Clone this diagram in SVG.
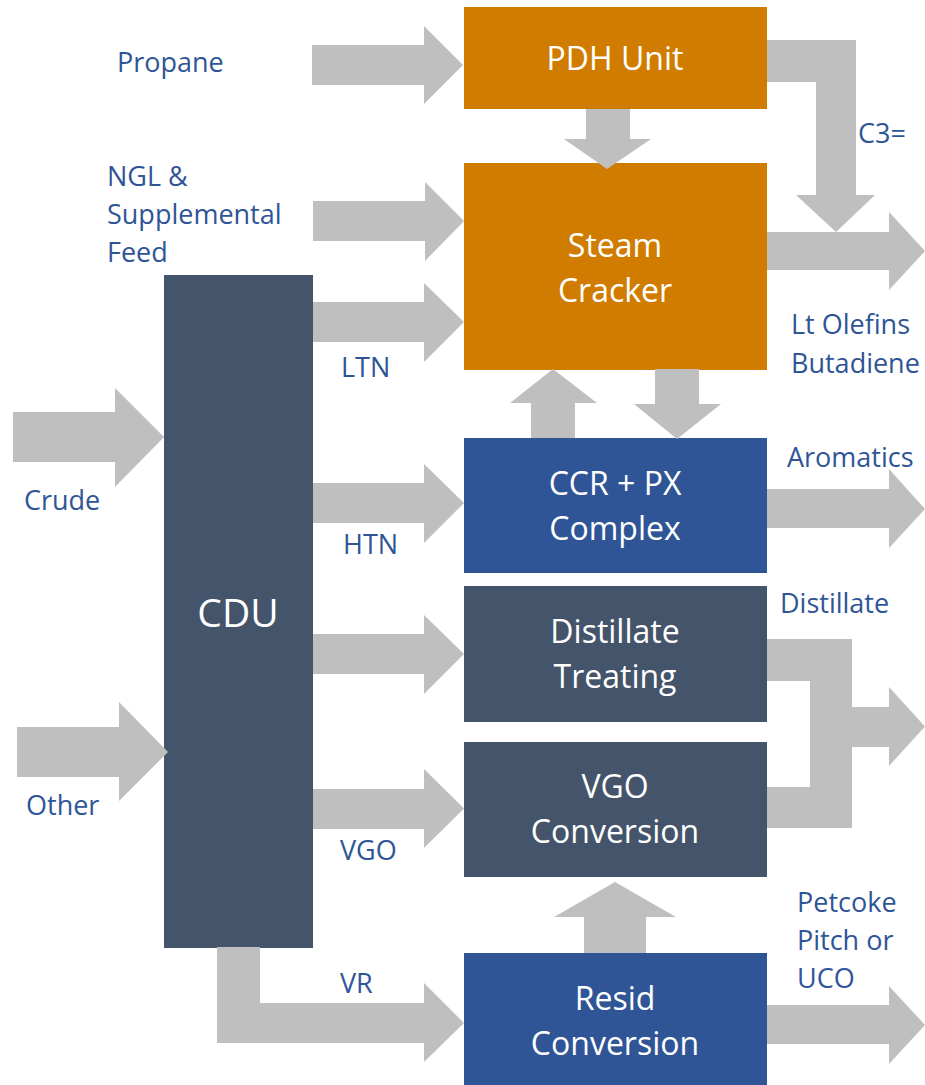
<svg xmlns="http://www.w3.org/2000/svg" width="925" height="1085" viewBox="0 0 925 1085">
<style>
.orange{fill:#D07C00}
.slate{fill:#44546A}
.blue{fill:#2F5597}
.box-text{font-family:"Open Sans","Liberation Sans",sans-serif;font-size:32px;fill:#FFFFFF;text-anchor:middle}
.cdu-text{font-family:"Open Sans","Liberation Sans",sans-serif;font-size:39px;fill:#FFFFFF;text-anchor:middle}
.label{font-family:"Open Sans","Liberation Sans",sans-serif;font-size:27px;fill:#2F5597}
.flow{fill:#BFBFBF}
</style>
<rect width="925" height="1085" fill="#FFFFFF"/>
<g id="pdh">
<rect class="orange" x="464" y="7" width="303" height="102"/>
<text class="box-text" x="615" y="70">PDH Unit</text>
</g>
<g id="steam-cracker">
<rect class="orange" x="464" y="163" width="303" height="207"/>
<text class="box-text" x="615" y="257">Steam</text>
<text class="box-text" x="615" y="302">Cracker</text>
</g>
<g id="ccr-px">
<rect class="blue" x="464" y="438" width="303" height="135"/>
<text class="box-text" x="615" y="495">CCR + PX</text>
<text class="box-text" x="615" y="540">Complex</text>
</g>
<g id="distillate-treating">
<rect class="slate" x="464" y="586" width="303" height="136"/>
<text class="box-text" x="615" y="643">Distillate</text>
<text class="box-text" x="615" y="688">Treating</text>
</g>
<g id="vgo-conversion">
<rect class="slate" x="464" y="742" width="303" height="135"/>
<text class="box-text" x="615" y="798">VGO</text>
<text class="box-text" x="615" y="843">Conversion</text>
</g>
<g id="resid-conversion">
<rect class="blue" x="464" y="953" width="303" height="132"/>
<text class="box-text" x="615" y="1010">Resid</text>
<text class="box-text" x="615" y="1055">Conversion</text>
</g>
<g id="cdu">
<rect class="slate" x="164" y="275" width="149" height="673"/>
<text class="cdu-text" x="238" y="627">CDU</text>
</g>
<g id="connectors">
<path class="flow" d="M312,45 H424 V26 L463,65 L424,104 V85 H312 Z"/>
<path class="flow" d="M313,201 H425 V182 L464,221 L425,261 V241 H313 Z"/>
<path class="flow" d="M313,302 H424 V283 L464,322 L424,362 V342 H313 Z"/>
<path class="flow" d="M13,412 H115 V388 L164,437 L115,487 V462 H13 Z"/>
<path class="flow" d="M313,483 H424 V464 L464,503 L424,543 V523 H313 Z"/>
<path class="flow" d="M313,634 H424 V615 L464,654 L424,694 V674 H313 Z"/>
<path class="flow" d="M17,727 H119 V702 L168,752 L119,801 V777 H17 Z"/>
<path class="flow" d="M313,789 H424 V769 L464,808.5 L424,848 V829 H313 Z"/>
<path class="flow" d="M217,947 H260 V1003 H424 V983 L464,1023 L424,1062 V1043 H217 Z"/>
<path class="flow" d="M586,109 H630 V139 H651 L607,169 L564,139 H586 Z"/>
<path class="flow" d="M767,40 H856 V195 H875 L836,232 L796,195 H816 V82 H767 Z"/>
<path class="flow" d="M767,232 H889 V212 L925,251 L889,290 V270 H767 Z"/>
<path class="flow" d="M531,438 V403 H510 L553,369 L597,403 H575 V438 Z"/>
<path class="flow" d="M655,369 H699 V404 H721 L677,439 L634,404 H655 Z"/>
<path class="flow" d="M767,489 H889 V469 L925,509 L889,548 V528 H767 Z"/>
<path class="flow" d="M767,639 H852 V707 H889 V687 L925,726.5 L889,766 V747 H852 V828 H767 V787 H810 V681 H767 Z"/>
<path class="flow" d="M584,953 V917 H554 L615,882 L676,917 H646 V953 Z"/>
<path class="flow" d="M767,1005 H889 V986 L925,1025 L889,1064 V1044 H767 Z"/>
</g>
<g id="labels">
<text class="label" x="117" y="72">Propane</text>
<text class="label" x="107" y="186">NGL &amp;</text>
<text class="label" x="107" y="224">Supplemental</text>
<text class="label" x="107" y="262">Feed</text>
<text class="label" x="341" y="377">LTN</text>
<text class="label" x="24" y="510">Crude</text>
<text class="label" x="343" y="554">HTN</text>
<text class="label" x="26" y="815">Other</text>
<text class="label" x="340" y="860">VGO</text>
<text class="label" x="340" y="993">VR</text>
<text class="label" x="858" y="143">C3=</text>
<text class="label" x="791" y="334">Lt Olefins</text>
<text class="label" x="791" y="373">Butadiene</text>
<text class="label" x="787" y="467">Aromatics</text>
<text class="label" x="780" y="613">Distillate</text>
<text class="label" x="797" y="912">Petcoke</text>
<text class="label" x="797" y="950">Pitch or</text>
<text class="label" x="797" y="988">UCO</text>
</g>
</svg>
